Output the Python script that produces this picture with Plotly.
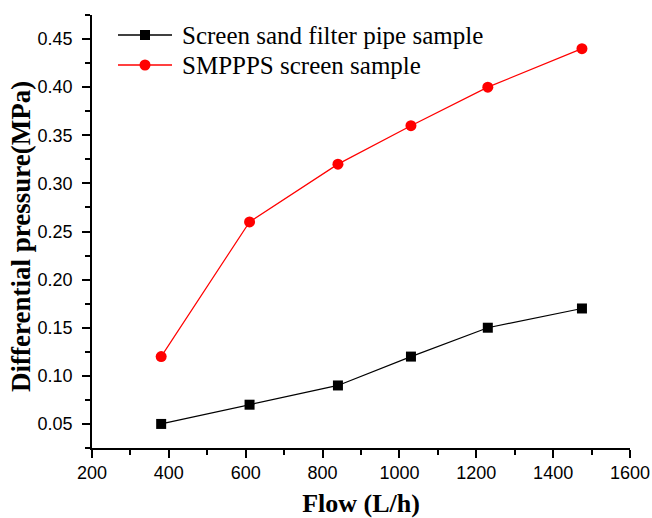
import plotly.graph_objects as go

# Flow rate (L/h) and differential pressure (MPa) for both samples
flow = [380, 610, 840, 1030, 1230, 1475]
sand_filter_dp = [0.05, 0.07, 0.09, 0.12, 0.15, 0.17]
smppps_dp = [0.12, 0.26, 0.32, 0.36, 0.40, 0.44]

series_names = ["Screen sand filter pipe sample", "SMPPPS screen sample"]
series_colors = ["black", "#ff0000"]
series_symbols = ["square", "circle"]
x_ticks = [200, 400, 600, 800, 1000, 1200, 1400, 1600]
y_ticks = [0.05, 0.10, 0.15, 0.20, 0.25, 0.30, 0.35, 0.40, 0.45]

W, H = 652, 518
ML, MR, MT, MB = 92, 22, 15, 70
PW, PH = W - ML - MR, H - MT - MB


def px_to_paper(px, py):
    return (px - ML) / PW, (H - MB - py) / PH


fig = go.Figure()
fig.add_trace(go.Scatter(
    x=flow, y=sand_filter_dp, name=series_names[0], mode="lines+markers",
    line=dict(color=series_colors[0], width=1.2),
    marker=dict(symbol=series_symbols[0], size=10, color=series_colors[0]),
    showlegend=False,
))
fig.add_trace(go.Scatter(
    x=flow, y=smppps_dp, name=series_names[1], mode="lines+markers",
    line=dict(color=series_colors[1], width=1.2),
    marker=dict(symbol=series_symbols[1], size=11, color=series_colors[1]),
    showlegend=False,
))

# Hand-drawn legend: long sample line with a centred marker, then the label
legend_rows = [35, 65]
for name, color, symbol, row in zip(series_names, series_colors, series_symbols, legend_rows):
    x0, y0 = px_to_paper(118, row)
    x1, _ = px_to_paper(172, row)
    fig.add_shape(type="line", xref="paper", yref="paper", x0=x0, x1=x1, y0=y0, y1=y0,
                  line=dict(color=color, width=1.3))
    half = 5 if symbol == "square" else 5.5
    mx0, my0 = px_to_paper(145 - half, row + half)
    mx1, my1 = px_to_paper(145 + half, row - half)
    fig.add_shape(type="rect" if symbol == "square" else "circle",
                  xref="paper", yref="paper", x0=mx0, x1=mx1, y0=my0, y1=my1,
                  line=dict(color=color, width=0), fillcolor=color)
    tx, ty = px_to_paper(180, row)
    fig.add_annotation(xref="paper", yref="paper", x=tx, y=ty, xanchor="left", yanchor="middle",
                       text=name, showarrow=False,
                       font=dict(family="Liberation Serif, Times New Roman", size=25, color="black"))

# Vertical y-axis title
ytx, yty = px_to_paper(21, 237)
fig.add_annotation(xref="paper", yref="paper", x=ytx, y=yty, xanchor="center", yanchor="middle",
                   text="<b>Differential pressure(MPa)</b>", textangle=-90, showarrow=False,
                   font=dict(family="Liberation Serif, Times New Roman", size=27, color="black"))

axis_common = dict(
    showline=True, linecolor="black", linewidth=1.6, mirror=False,
    showgrid=False, zeroline=False, automargin=False,
    ticks="outside", ticklen=8, tickwidth=1.5, tickcolor="black",
    tickfont=dict(family="Liberation Sans, Arial", size=18, color="black"),
)

fig.update_xaxes(
    range=[200, 1600], tickvals=x_ticks, ticktext=[str(v) for v in x_ticks],
    minor=dict(dtick=100, ticks="outside", ticklen=5, tickwidth=1.5, tickcolor="black"),
    title=dict(text="<b>Flow (L/h)</b>",
               font=dict(family="Liberation Serif, Times New Roman", size=26, color="black"),
               standoff=16),
    **axis_common,
)
fig.update_yaxes(
    range=[0.025, 0.475], tickvals=y_ticks, ticktext=[f"{v:.2f}" for v in y_ticks],
    minor=dict(dtick=0.025, tick0=0.025, ticks="outside", ticklen=5, tickwidth=1.5, tickcolor="black"),
    ticklabelstandoff=6,
    **axis_common,
)

fig.update_layout(
    width=W, height=H,
    margin=dict(l=ML, r=MR, t=MT, b=MB),
    paper_bgcolor="white", plot_bgcolor="white",
    showlegend=False,
)

fig.write_html("out.html")
